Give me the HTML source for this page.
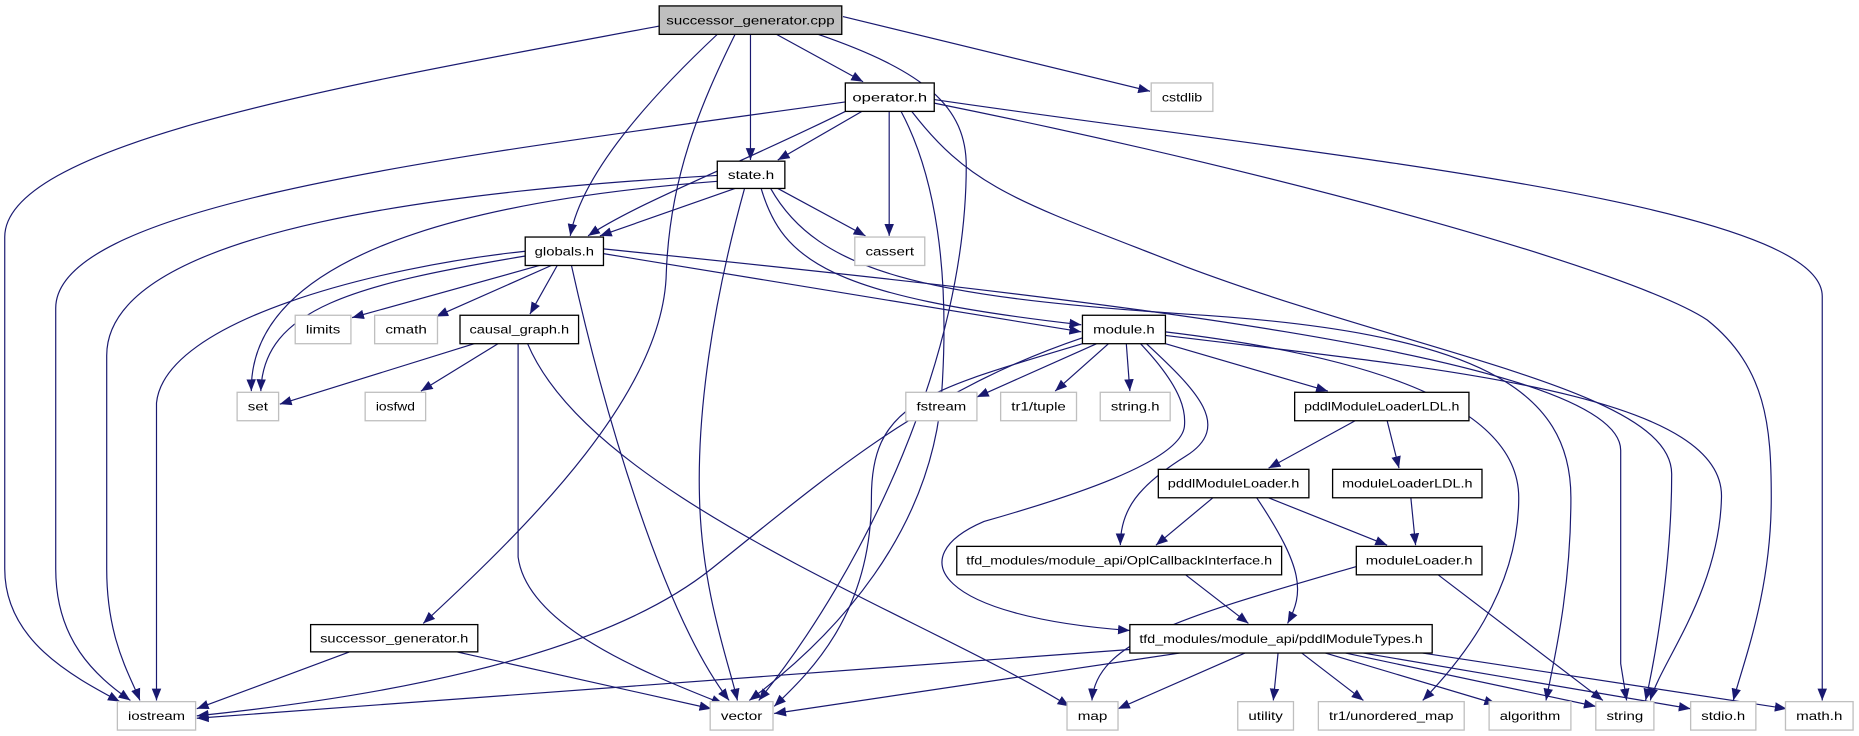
<!DOCTYPE html>
<html><head><meta charset="utf-8"><style>
html,body{margin:0;padding:0;background:#fff;width:1859px;height:736px;overflow:hidden}
svg{display:block}
text{font-family:"Liberation Sans",sans-serif;font-size:10px;fill:#000}
.e{fill:none;stroke:#191970;stroke-width:1;marker-end:url(#a)}
.b{fill:#fff;stroke:#000;stroke-width:1.1}
.g{fill:#fff;stroke:#bfbfbf;stroke-width:1.1}
</style></head><body>
<svg width="1859" height="736" viewBox="0 0 1568 621" preserveAspectRatio="none">
<defs><marker id="a" markerUnits="userSpaceOnUse" markerWidth="10" markerHeight="10" viewBox="0 0 10 10" refX="10" refY="5" orient="auto"><path d="M0,1 L10,5 L0,9 Z" fill="#191970"/></marker></defs>
<g>
<!-- succ.cpp -->
<path class="e" d="M556,22 C300,70 4,120 4,200 L4,480 C4,540 60,570 101,592"/>
<path class="e" d="M605,29 C540,90 490,150 481,199"/>
<path class="e" d="M620,29 C590,90 565,150 562,230 C560,330 450,440 357,526"/>
<path class="e" d="M633,29 L633,135"/>
<path class="e" d="M655,29 L728,69"/>
<path class="e" d="M690,29 C780,60 815,90 815,140 C815,300 730,480 640,591"/>
<path class="e" d="M711,14 L970,77"/>
<!-- operator.h -->
<path class="e" d="M713,86 C400,130 47,170 47,260 L47,480 C47,540 80,570 110,591"/>
<path class="e" d="M713,94 C620,140 540,170 496,199"/>
<path class="e" d="M727,94 L656,135"/>
<path class="e" d="M750,94 L750,199"/>
<path class="e" d="M760,94 C790,150 800,230 795,320 C790,450 700,540 632,591"/>
<path class="e" d="M769,94 C820,160 860,170 1000,225 C1200,300 1410,330 1410,400 C1410,480 1395,560 1388,591"/>
<path class="e" d="M788,87 C1100,150 1380,230 1440,270 C1490,310 1494,360 1494,420 C1494,500 1470,560 1462,591"/>
<path class="e" d="M788,84 C1100,130 1537,170 1537,250 L1537,591"/>
<!-- state.h -->
<path class="e" d="M605,148 C400,160 90,190 90,300 L90,480 C90,540 110,570 118,591"/>
<path class="e" d="M605,153 C450,165 210,200 212,330"/>
<path class="e" d="M620,159 L506,199"/>
<path class="e" d="M656,159 L730,199"/>
<path class="e" d="M628,159 C600,260 588,350 590,420 C592,500 615,560 622,591"/>
<path class="e" d="M642,159 C660,220 700,250 912,274"/>
<path class="e" d="M650,159 C690,230 780,250 1000,265 C1250,280 1325,330 1325,420 C1325,500 1310,560 1304,591"/>
<!-- globals.h -->
<path class="e" d="M443,212 C320,225 139,270 132,340 L132,591"/>
<path class="e" d="M443,216 C300,240 222,260 220,330"/>
<path class="e" d="M455,224 L297,268"/>
<path class="e" d="M465,224 L368,267"/>
<path class="e" d="M470,224 L447,265"/>
<path class="e" d="M482,224 C510,350 560,520 615,591"/>
<path class="e" d="M509,214 L912,280"/>
<path class="e" d="M509,210 C900,250 1367,300 1367,380 L1367,560 L1372,591"/>
<!-- causal_graph.h -->
<path class="e" d="M400,290 L236,341"/>
<path class="e" d="M420,290 L355,330"/>
<path class="e" d="M437,290 L437,470 C445,530 550,570 610,594"/>
<path class="e" d="M445,290 C500,420 780,520 902,596"/>
<!-- successor_generator.h -->
<path class="e" d="M295,550 L166,598"/>
<path class="e" d="M385,550 L600,598"/>
<!-- module.h -->
<path class="e" d="M913,285 C780,330 700,400 600,480 C500,560 300,590 166,604"/>
<path class="e" d="M913,290 C780,330 735,340 735,420 C735,520 680,570 653,596"/>
<path class="e" d="M925,290 L824,335"/>
<path class="e" d="M935,290 L890,330"/>
<path class="e" d="M950,290 L953,330"/>
<path class="e" d="M983,290 L1120,330"/>
<path class="e" d="M967,290 C1010,330 1040,360 1000,385 C960,410 945,430 945,460"/>
<path class="e" d="M962,290 C1000,330 1000,350 999,360 C995,390 900,420 830,440 C760,470 790,520 953,532"/>
<path class="e" d="M983,280 C1150,300 1281,340 1281,420 C1281,500 1230,560 1200,591"/>
<path class="e" d="M983,283 C1200,310 1455,330 1452,420 C1450,500 1400,560 1392,591"/>
<!-- loaders -->
<path class="e" d="M1143,355 L1070,395"/>
<path class="e" d="M1170,355 L1180,395"/>
<path class="e" d="M1023,420 L975,460"/>
<path class="e" d="M1070,420 L1170,460"/>
<path class="e" d="M1060,420 C1100,480 1100,500 1086,526"/>
<path class="e" d="M1190,420 L1194,460"/>
<path class="e" d="M1000,485 L1053,526"/>
<path class="e" d="M1144,478 C1000,520 925,540 921,591"/>
<path class="e" d="M1213,485 L1352,591"/>
<!-- pddlModuleTypes -->
<path class="e" d="M953,548 L166,606"/>
<path class="e" d="M995,551 L653,602"/>
<path class="e" d="M1050,551 L943,598"/>
<path class="e" d="M1078,551 L1074,591"/>
<path class="e" d="M1098,551 L1150,591"/>
<path class="e" d="M1118,551 L1262,594"/>
<path class="e" d="M1135,551 L1346,596"/>
<path class="e" d="M1150,551 L1426,598"/>
<path class="e" d="M1200,551 L1507,598"/>
</g>
<g>
<rect x="556" y="5" width="154" height="24" fill="#bfbfbf" stroke="#000" stroke-width="1.1"/><text x="633" y="20.5" text-anchor="middle" textLength="142" lengthAdjust="spacingAndGlyphs">successor_generator.cpp</text>
<rect class="b" x="713" y="70" width="75" height="24"/><text x="750.5" y="85.5" text-anchor="middle" textLength="63" lengthAdjust="spacingAndGlyphs">operator.h</text>
<rect class="g" x="971" y="70" width="52" height="24"/><text x="997" y="85.5" text-anchor="middle" textLength="34" lengthAdjust="spacingAndGlyphs">cstdlib</text>
<rect class="b" x="605" y="136" width="57" height="23"/><text x="633.5" y="151" text-anchor="middle" textLength="39" lengthAdjust="spacingAndGlyphs">state.h</text>
<rect class="b" x="443" y="200" width="66" height="24"/><text x="476" y="215.5" text-anchor="middle" textLength="50" lengthAdjust="spacingAndGlyphs">globals.h</text>
<rect class="g" x="721" y="200" width="59" height="24"/><text x="750.5" y="215.5" text-anchor="middle" textLength="41" lengthAdjust="spacingAndGlyphs">cassert</text>
<rect class="g" x="249" y="266" width="47" height="24"/><text x="272.5" y="281.5" text-anchor="middle" textLength="29" lengthAdjust="spacingAndGlyphs">limits</text>
<rect class="g" x="316" y="266" width="53" height="24"/><text x="342.5" y="281.5" text-anchor="middle" textLength="35" lengthAdjust="spacingAndGlyphs">cmath</text>
<rect class="b" x="388" y="266" width="100" height="24"/><text x="438" y="281.5" text-anchor="middle" textLength="84" lengthAdjust="spacingAndGlyphs">causal_graph.h</text>
<rect class="b" x="913" y="266" width="70" height="24"/><text x="948" y="281.5" text-anchor="middle" textLength="52" lengthAdjust="spacingAndGlyphs">module.h</text>
<rect class="g" x="200" y="331" width="35" height="24"/><text x="217.5" y="346.5" text-anchor="middle" textLength="17" lengthAdjust="spacingAndGlyphs">set</text>
<rect class="g" x="308" y="331" width="51" height="24"/><text x="333.5" y="346.5" text-anchor="middle" textLength="33" lengthAdjust="spacingAndGlyphs">iosfwd</text>
<rect class="g" x="764" y="331" width="60" height="24"/><text x="794" y="346.5" text-anchor="middle" textLength="42" lengthAdjust="spacingAndGlyphs">fstream</text>
<rect class="g" x="844" y="331" width="64" height="24"/><text x="876" y="346.5" text-anchor="middle" textLength="46" lengthAdjust="spacingAndGlyphs">tr1/tuple</text>
<rect class="g" x="928" y="331" width="59" height="24"/><text x="957.5" y="346.5" text-anchor="middle" textLength="41" lengthAdjust="spacingAndGlyphs">string.h</text>
<rect class="b" x="1092" y="331" width="147" height="24"/><text x="1165.5" y="346.5" text-anchor="middle" textLength="131" lengthAdjust="spacingAndGlyphs">pddlModuleLoaderLDL.h</text>
<rect class="b" x="977" y="396" width="127" height="24"/><text x="1040.5" y="411.5" text-anchor="middle" textLength="111" lengthAdjust="spacingAndGlyphs">pddlModuleLoader.h</text>
<rect class="b" x="1124" y="396" width="126" height="24"/><text x="1187" y="411.5" text-anchor="middle" textLength="110" lengthAdjust="spacingAndGlyphs">moduleLoaderLDL.h</text>
<rect class="b" x="807" y="461" width="274" height="24"/><text x="944" y="476.5" text-anchor="middle" textLength="258" lengthAdjust="spacingAndGlyphs">tfd_modules/module_api/OplCallbackInterface.h</text>
<rect class="b" x="1144" y="461" width="106" height="24"/><text x="1197" y="476.5" text-anchor="middle" textLength="90" lengthAdjust="spacingAndGlyphs">moduleLoader.h</text>
<rect class="b" x="262" y="527" width="141" height="23"/><text x="332.5" y="542" text-anchor="middle" textLength="125" lengthAdjust="spacingAndGlyphs">successor_generator.h</text>
<rect class="b" x="953" y="527" width="255" height="24"/><text x="1080.5" y="542.5" text-anchor="middle" textLength="239" lengthAdjust="spacingAndGlyphs">tfd_modules/module_api/pddlModuleTypes.h</text>
<rect class="g" x="99" y="592" width="66" height="24"/><text x="132" y="607.5" text-anchor="middle" textLength="48" lengthAdjust="spacingAndGlyphs">iostream</text>
<rect class="g" x="599" y="592" width="53" height="24"/><text x="625.5" y="607.5" text-anchor="middle" textLength="35" lengthAdjust="spacingAndGlyphs">vector</text>
<rect class="g" x="900" y="592" width="43" height="24"/><text x="921.5" y="607.5" text-anchor="middle" textLength="25" lengthAdjust="spacingAndGlyphs">map</text>
<rect class="g" x="1044" y="592" width="47" height="24"/><text x="1067.5" y="607.5" text-anchor="middle" textLength="29" lengthAdjust="spacingAndGlyphs">utility</text>
<rect class="g" x="1112" y="592" width="123" height="24"/><text x="1173.5" y="607.5" text-anchor="middle" textLength="105" lengthAdjust="spacingAndGlyphs">tr1/unordered_map</text>
<rect class="g" x="1256" y="592" width="69" height="24"/><text x="1290.5" y="607.5" text-anchor="middle" textLength="51" lengthAdjust="spacingAndGlyphs">algorithm</text>
<rect class="g" x="1346" y="592" width="49" height="24"/><text x="1370.5" y="607.5" text-anchor="middle" textLength="31" lengthAdjust="spacingAndGlyphs">string</text>
<rect class="g" x="1426" y="592" width="55" height="24"/><text x="1453.5" y="607.5" text-anchor="middle" textLength="37" lengthAdjust="spacingAndGlyphs">stdio.h</text>
<rect class="g" x="1506" y="592" width="57" height="24"/><text x="1534.5" y="607.5" text-anchor="middle" textLength="39" lengthAdjust="spacingAndGlyphs">math.h</text>
</g>
</svg>
</body></html>
